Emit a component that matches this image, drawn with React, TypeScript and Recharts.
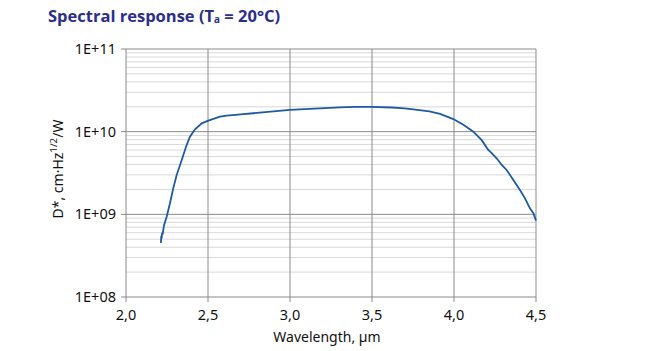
import { LineChart, Line, XAxis, YAxis, ReferenceLine } from "recharts";

const wavelength = [
  2.213, 2.215, 2.217, 2.221, 2.223, 2.232, 2.248, 2.268, 2.288, 2.309, 2.34, 2.366,
  2.39, 2.421, 2.462, 2.502, 2.573, 2.614, 2.7, 2.776, 2.9, 3.0, 3.15, 3.305, 3.4,
  3.498, 3.62, 3.7, 3.752, 3.85, 3.915, 3.996, 4.057, 4.118, 4.169, 4.209, 4.23,
  4.26, 4.291, 4.321, 4.362, 4.402, 4.433, 4.463, 4.484, 4.5,
];

const detectivity = [
  4.5e8, 5.5e8, 5.1e8, 6.0e8, 5.7e8, 7.4e8, 9.35e8, 1.36e9, 2.06e9, 2.99e9, 4.54e9,
  6.57e9, 8.69e9, 1.07e10, 1.26e10, 1.36e10, 1.52e10, 1.56e10, 1.62e10, 1.67e10,
  1.76e10, 1.83e10, 1.9e10, 1.97e10, 1.99e10, 2.0e10, 1.96e10, 1.91e10, 1.86e10,
  1.76e10, 1.64e10, 1.42e10, 1.21e10, 1.0e10, 7.9e9, 6.0e9, 5.5e9, 4.76e9, 3.96e9,
  3.44e9, 2.6e9, 1.97e9, 1.56e9, 1.18e9, 1.03e9, 8.4e8,
];

const xTicks = [2.0, 2.5, 3.0, 3.5, 4.0, 4.5];
const yTicks = [1e8, 1e9, 1e10, 1e11];
const minorY = [1e8, 1e9, 1e10].flatMap((d) => [2, 3, 4, 5, 6, 7, 8, 9].map((m) => m * d));

const data = wavelength.map((w, i) => ({ w, d: detectivity[i] }));

const FONT = "'Noto Sans', sans-serif";
const MAJOR = "#8a8a8a";
const MINOR = "#d9d9d9";

export default function App() {
  return (
    <div style={{ position: "absolute", left: 0, top: 0, width: 648, height: 351, background: "#fff", fontFamily: FONT }}>
      <div
        style={{
          position: "absolute",
          left: 48,
          top: 6,
          lineHeight: "20px",
          fontFamily: "'Open Sans', sans-serif",
          fontWeight: 700,
          fontSize: 16.5,
          color: "#2b2e8c",
          whiteSpace: "nowrap",
        }}
      >
        Spectral response (T
        <span style={{ fontSize: "0.6em", verticalAlign: "-0.15em", lineHeight: 0 }}>a</span> = 20°C)
      </div>
      <div
        style={{
          position: "absolute",
          left: 57,
          top: 169,
          transform: "translate(-50%, -50%) rotate(-90deg)",
          fontSize: 14,
          color: "#111",
          whiteSpace: "nowrap",
        }}
      >
        D*, cm·Hz<sup style={{ fontSize: "0.7em", lineHeight: 0 }}>1/2</sup>/W
      </div>
      <LineChart
        width={648}
        height={351}
        data={data}
        margin={{ top: 49, right: 112, bottom: 0, left: 0 }}
        style={{ position: "absolute", left: 0, top: 0 }}
      >
        <XAxis
          dataKey="w"
          type="number"
          domain={[2, 4.5]}
          ticks={xTicks}
          tickFormatter={(v: number) => v.toFixed(1).replace(".", ",")}
          stroke={MAJOR}
          tick={{ fill: "#111", fontSize: 14.5, fontFamily: FONT }}
          tickSize={5}
          tickMargin={8}
          height={54}
          label={{ value: "Wavelength, µm", position: "insideBottom", offset: 9, dx: -4, fill: "#111", fontSize: 14, fontFamily: FONT }}
        />
        <YAxis
          dataKey="d"
          scale="log"
          domain={[1e8, 1e11]}
          ticks={yTicks}
          allowDataOverflow
          tickFormatter={(v: number) => "1E+" + String(Math.round(Math.log10(v))).padStart(2, "0")}
          stroke={MAJOR}
          tick={{ fill: "#111", fontSize: 14.5, fontFamily: FONT }}
          tickSize={5}
          tickMargin={5}
          width={126}
        />
        {minorY.map((v) => (
          <ReferenceLine key={"m" + v} y={v} stroke={MINOR} strokeWidth={1} />
        ))}
        {[1e9, 1e10, 1e11].map((v) => (
          <ReferenceLine key={"M" + v} y={v} stroke={MAJOR} strokeWidth={1} />
        ))}
        {xTicks.slice(1).map((v) => (
          <ReferenceLine key={"x" + v} x={v} stroke={MAJOR} strokeWidth={1} />
        ))}
        <Line
          type="linear"
          dataKey="d"
          stroke="#1d5aa3"
          strokeWidth={1.8}
          dot={false}
          isAnimationActive={false}
        />
      </LineChart>
    </div>
  );
}
